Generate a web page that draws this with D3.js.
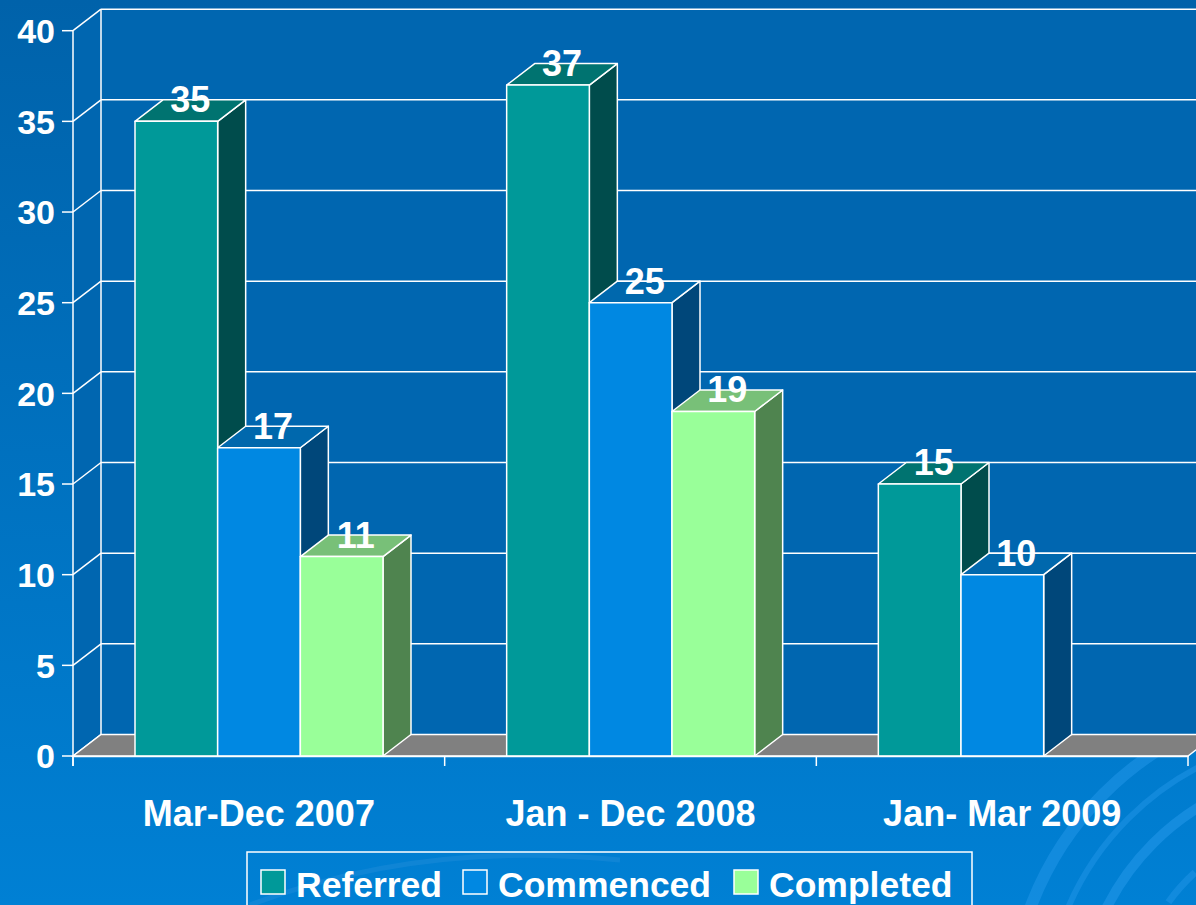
<!DOCTYPE html>
<html>
<head>
<meta charset="utf-8">
<script src="https://cdn.jsdelivr.net/npm/d3@7"></script>
<style>
  body { margin: 0; background: #0070c0; }
  svg { display: block; font-family: "Liberation Sans", Arial, sans-serif; font-weight: bold; }
</style>
</head>
<body>
<script>
// Data
const categories = ["Mar-Dec 2007", "Jan - Dec 2008", "Jan- Mar 2009"];
const seriesNames = ["Referred", "Commenced", "Completed"];
const referred = [35, 37, 15];
const commenced = [17, 25, 10];
const completed = [11, 19, null];
const yTicks = [0, 5, 10, 15, 20, 25, 30, 35, 40];

const seriesValues = [referred, commenced, completed];
const colors = {
  Referred: { front: "#009999", top: "#007370", side: "#004c4c" },
  Commenced: { front: "#0088e2", top: "#0068ad", side: "#00477a" },
  Completed: { front: "#99ff99", top: "#78c078", side: "#4f844f" },
};

const width = 1196;
const height = 905;
const depthX = 28;
const depthY = 21.5;

const svg = d3.select("body").append("svg")
  .attr("width", width)
  .attr("height", height);

// Background gradient
const defs = svg.append("defs");
const bg = defs.append("linearGradient")
  .attr("id", "bg").attr("x1", 0).attr("y1", 0).attr("x2", 0).attr("y2", 1);
bg.append("stop").attr("offset", "0%").attr("stop-color", "#0062aa");
bg.append("stop").attr("offset", "100%").attr("stop-color", "#0080d4");
svg.append("rect").attr("width", width).attr("height", height).attr("fill", "url(#bg)");

// Decorative swirls (bottom right)
const swirl = svg.append("g").attr("fill", "none").attr("stroke", "#2196e8");
[ [250, 10, 0.6], [285, 6, 0.5], [320, 12, 0.55], [200, 7, 0.5] ].forEach(([r, w, o]) => {
  swirl.append("circle")
    .attr("cx", 1330).attr("cy", 1020).attr("r", r)
    .attr("stroke-width", w).attr("opacity", o)
    .attr("stroke-dasharray", r === 200 ? "40 18" : null);
});
svg.append("path")
  .attr("d", "M250,905 Q420,840 620,860")
  .attr("fill", "none").attr("stroke", "#2a93dd").attr("stroke-width", 5).attr("opacity", 0.35);

// Scales
const x = d3.scaleBand().domain(categories).range([73, 1188]);
const inner = d3.scaleBand().domain(seriesNames).range([62, 310]);
const y = d3.scaleLinear().domain([0, 40]).range([756, 30.7]);

const x0 = x.range()[0];
const x1 = x.range()[1];
const yTop = y(40);
const yBot = y(0);

// Walls
svg.append("rect")
  .attr("x", x0 + depthX).attr("y", yTop - depthY)
  .attr("width", width).attr("height", yBot - yTop)
  .attr("fill", "#0066b0");
svg.append("polygon")
  .attr("points", [[x0, yTop], [x0 + depthX, yTop - depthY], [x0 + depthX, yBot - depthY], [x0, yBot]].join(" "))
  .attr("fill", "#0066b0");

const grid = svg.append("g").attr("stroke", "#fff").attr("stroke-width", 1.5).attr("fill", "none");
yTicks.forEach((t) => {
  if (t > 0) {
    grid.append("line")
      .attr("x1", x0 + depthX).attr("x2", width)
      .attr("y1", y(t) - depthY).attr("y2", y(t) - depthY);
  }
  grid.append("line")
    .attr("x1", x0).attr("y1", y(t))
    .attr("x2", x0 + depthX).attr("y2", y(t) - depthY);
});
grid.append("line")
  .attr("x1", x0 + depthX).attr("x2", x0 + depthX)
  .attr("y1", yTop - depthY).attr("y2", yBot - depthY);

// Floor
svg.append("polygon")
  .attr("points", [[x0, yBot], [x1, yBot], [x1 + depthX, yBot - depthY], [x0 + depthX, yBot - depthY]].join(" "))
  .attr("fill", "#808080")
  .attr("stroke", "#fff").attr("stroke-width", 1.5);

// Bars
const bars = [];
categories.forEach((c, ci) => {
  seriesNames.forEach((s, si) => {
    const v = seriesValues[si][ci];
    if (v != null) bars.push({ category: c, series: s, value: v });
  });
});

const barG = svg.append("g").attr("stroke", "#fff").attr("stroke-width", 1.5).attr("stroke-linejoin", "round");
bars.forEach((d) => {
  const bx = x(d.category) + inner(d.series);
  const bw = inner.bandwidth();
  const top = y(d.value);
  const col = colors[d.series];
  const g = barG.append("g");
  g.append("polygon")
    .attr("points", [[bx + bw, top], [bx + bw + depthX, top - depthY], [bx + bw + depthX, yBot - depthY], [bx + bw, yBot]].join(" "))
    .attr("fill", col.side);
  g.append("polygon")
    .attr("points", [[bx, top], [bx + depthX, top - depthY], [bx + bw + depthX, top - depthY], [bx + bw, top]].join(" "))
    .attr("fill", col.top);
  g.append("rect")
    .attr("x", bx).attr("y", top).attr("width", bw).attr("height", yBot - top)
    .attr("fill", col.front);
});

// Value labels
svg.append("g").selectAll("text")
  .data(bars)
  .join("text")
  .attr("x", (d) => x(d.category) + inner(d.series) + inner.bandwidth() / 2 + depthX / 2)
  .attr("y", (d) => y(d.value) - 9)
  .attr("text-anchor", "middle")
  .attr("fill", "#fff")
  .attr("font-size", 36)
  .text((d) => d.value);

// Y axis
const yAxis = svg.append("g");
yAxis.append("line")
  .attr("x1", x0).attr("x2", x0).attr("y1", yTop).attr("y2", yBot + 10)
  .attr("stroke", "#fff").attr("stroke-width", 1.5);
yAxis.selectAll(".tick")
  .data(yTicks)
  .join("g")
  .attr("transform", (d) => `translate(0,${y(d)})`)
  .call((g) => {
    g.append("line").attr("x1", x0 - 11).attr("x2", x0).attr("stroke", "#fff").attr("stroke-width", 1.5);
    g.append("text")
      .attr("x", 55).attr("dy", "0.36em")
      .attr("text-anchor", "end")
      .attr("fill", "#fff").attr("font-size", 34)
      .text((d) => d);
  });

// X axis
const xAxis = svg.append("g").attr("transform", `translate(0,${yBot})`)
  .call(d3.axisBottom(x).tickSize(0).tickPadding(44));
xAxis.select(".domain").attr("stroke", "#fff").attr("stroke-width", 1.5);
xAxis.selectAll("text")
  .attr("fill", "#fff")
  .attr("font-size", 36)
  .attr("font-family", "'Liberation Sans', Arial, sans-serif")
  .attr("font-weight", "bold");
const xTickPositions = categories.map((c) => x(c)).concat([x1]);
xAxis.selectAll(".sep")
  .data(xTickPositions)
  .join("line")
  .attr("class", "sep")
  .attr("x1", (d) => d).attr("x2", (d) => d)
  .attr("y1", 0).attr("y2", 10)
  .attr("stroke", "#fff").attr("stroke-width", 1.5);

// Legend
const legend = svg.append("g");
legend.append("rect")
  .attr("x", 247).attr("y", 852).attr("width", 725).attr("height", 80)
  .attr("fill", "none").attr("stroke", "#fff").attr("stroke-width", 1.5);
const legendX = [261, 463, 734];
seriesNames.forEach((s, i) => {
  legend.append("rect")
    .attr("x", legendX[i]).attr("y", 870).attr("width", 24).attr("height", 24)
    .attr("fill", colors[s].front)
    .attr("stroke", "#fff").attr("stroke-width", 1.5);
  legend.append("text")
    .attr("x", legendX[i] + 35).attr("y", 897)
    .attr("fill", "#fff").attr("font-size", 35.5)
    .text(s);
});
</script>
</body>
</html>
